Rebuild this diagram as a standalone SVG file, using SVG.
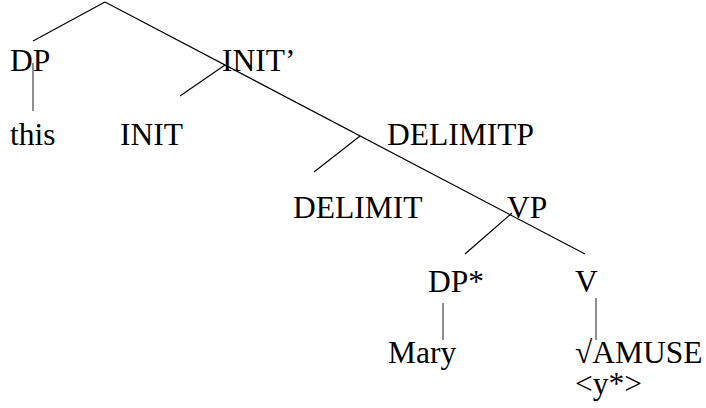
<svg xmlns="http://www.w3.org/2000/svg" width="706" height="408" viewBox="0 0 706 408">
<style>
line{stroke:#000;stroke-width:1.2}
.v{stroke:#444}
</style>
<rect width="706" height="408" fill="#fff"/>
<g id="connectors">
<line x1="105" y1="2" x2="33" y2="41"/>
<line x1="105" y1="2" x2="585" y2="254"/>
<line class="v" x1="33" y1="63" x2="33" y2="111"/>
<line x1="225" y1="65" x2="180" y2="96"/>
<line x1="360" y1="136" x2="314" y2="172"/>
<line x1="512" y1="213" x2="465" y2="254"/>
<line class="v" x1="443" y1="303" x2="443" y2="340"/>
<line class="v" x1="596" y1="298" x2="596" y2="340"/>
</g>
<g font-family="'Liberation Serif', serif" font-size="31.5" fill="#000">
<g id="DP"><text x="10" y="71">DP</text></g>
<g id="this"><text x="10" y="145">this</text></g>
<g id="INITbar"><text x="222" y="71">INIT’</text></g>
<g id="INIT"><text x="120" y="145">INIT</text></g>
<g id="DELIMITP"><text x="387" y="145">DELIMITP</text></g>
<g id="DELIMIT"><text x="293" y="218">DELIMIT</text></g>
<g id="VP"><text x="507" y="218">VP</text></g>
<g id="DPstar"><text x="428" y="292">DP*</text></g>
<g id="V"><text x="575" y="292">V</text></g>
<g id="Mary"><text x="388" y="363">Mary</text></g>
<g id="AMUSE"><text x="575" y="363">√AMUSE</text><text x="575" y="394">&lt;y*&gt;</text></g>
</g>
</svg>
